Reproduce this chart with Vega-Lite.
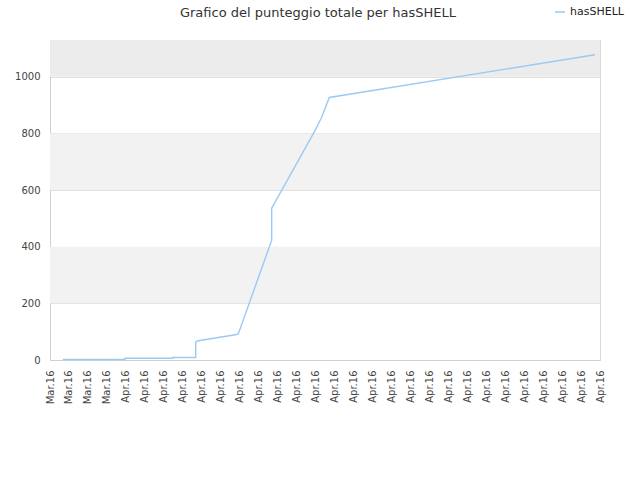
{
  "$schema": "https://vega.github.io/schema/vega-lite/v6.json",
  "width": 550,
  "height": 320,
  "autosize": {"type": "none"},
  "padding": {"left": 50, "top": 40, "right": 40, "bottom": 120},
  "background": "white",
  "title": {
    "text": "Grafico del punteggio totale per hasSHELL",
    "font": "DejaVu Sans",
    "fontSize": 13,
    "fontWeight": "normal",
    "color": "#333333",
    "anchor": "middle",
    "frame": "group",
    "offset": 20,
    "dy": 34,
    "dx": -7
  },
  "config": {
    "font": "DejaVu Sans",
    "view": {"stroke": "#d9d9d9"},
    "axis": {
      "labelFont": "DejaVu Sans",
      "labelFontSize": 10,
      "labelColor": "#444444",
      "ticks": false,
      "tickSize": 0,
      "domainColor": "#d0d0d0",
      "gridColor": "#e0e0e0"
    },
    "axisY": {"labelPadding": 10, "zindex": 1},
    "axisX": {"grid": false, "labelAngle": -90, "labelPadding": 10}
  },
  "datasets": {
    "bands": [
      {"zone": "band", "from": 200, "to": 400},
      {"zone": "band", "from": 600, "to": 800},
      {"zone": "top", "from": 1000, "to": 1130}
    ],
    "score": [
      {"time": "2016-03-28T16:05:00", "score": 2},
      {"time": "2016-03-31T22:54:00", "score": 2},
      {"time": "2016-03-31T22:55:00", "score": 6},
      {"time": "2016-04-03T11:15:00", "score": 6},
      {"time": "2016-04-03T11:16:00", "score": 9},
      {"time": "2016-04-04T16:22:00", "score": 9},
      {"time": "2016-04-04T16:23:00", "score": 64},
      {"time": "2016-04-04T19:40:00", "score": 68},
      {"time": "2016-04-06T20:15:00", "score": 90},
      {"time": "2016-04-06T22:16:00", "score": 92},
      {"time": "2016-04-08T16:32:00", "score": 423},
      {"time": "2016-04-08T16:33:00", "score": 536},
      {"time": "2016-04-10T23:20:00", "score": 810},
      {"time": "2016-04-11T07:49:00", "score": 857},
      {"time": "2016-04-11T17:25:00", "score": 927},
      {"time": "2016-04-25T17:40:00", "score": 1078}
    ]
  },
  "layer": [
    {
      "data": {"name": "bands"},
      "transform": [{"filter": "datum.zone === 'band'"}],
      "mark": {"type": "rect", "color": "#f2f2f2"},
      "encoding": {
        "y": {"field": "from", "type": "quantitative", "title": null, "scale": {"domain": [0, 1130], "nice": false, "zero": true}, "axis": {"values": [0, 200, 400, 600, 800, 1000], "format": "d"}},
        "y2": {"field": "to"}
      }
    },
    {
      "data": {"name": "bands"},
      "transform": [{"filter": "datum.zone === 'top'"}],
      "mark": {"type": "rect", "color": "#ececec"},
      "encoding": {
        "y": {"field": "from", "type": "quantitative", "title": null},
        "y2": {"field": "to"}
      }
    },
    {
      "data": {"name": "score"},
      "mark": {"type": "line", "strokeWidth": 1.4, "interpolate": "linear"},
      "encoding": {
        "x": {
          "field": "time",
          "type": "temporal",
          "title": null,
          "scale": {"domain": [{"year": 2016, "month": 3, "date": 28}, {"year": 2016, "month": 4, "date": 26}]},
          "axis": {
            "format": "%b.%y",
            "values": [
              {"year": 2016, "month": 3, "date": 28}, {"year": 2016, "month": 3, "date": 29},
              {"year": 2016, "month": 3, "date": 30}, {"year": 2016, "month": 3, "date": 31},
              {"year": 2016, "month": 4, "date": 1}, {"year": 2016, "month": 4, "date": 2},
              {"year": 2016, "month": 4, "date": 3}, {"year": 2016, "month": 4, "date": 4},
              {"year": 2016, "month": 4, "date": 5}, {"year": 2016, "month": 4, "date": 6},
              {"year": 2016, "month": 4, "date": 7}, {"year": 2016, "month": 4, "date": 8},
              {"year": 2016, "month": 4, "date": 9}, {"year": 2016, "month": 4, "date": 10},
              {"year": 2016, "month": 4, "date": 11}, {"year": 2016, "month": 4, "date": 12},
              {"year": 2016, "month": 4, "date": 13}, {"year": 2016, "month": 4, "date": 14},
              {"year": 2016, "month": 4, "date": 15}, {"year": 2016, "month": 4, "date": 16},
              {"year": 2016, "month": 4, "date": 17}, {"year": 2016, "month": 4, "date": 18},
              {"year": 2016, "month": 4, "date": 19}, {"year": 2016, "month": 4, "date": 20},
              {"year": 2016, "month": 4, "date": 21}, {"year": 2016, "month": 4, "date": 22},
              {"year": 2016, "month": 4, "date": 23}, {"year": 2016, "month": 4, "date": 24},
              {"year": 2016, "month": 4, "date": 25}, {"year": 2016, "month": 4, "date": 26}
            ]
          }
        },
        "y": {"field": "score", "type": "quantitative", "title": null},
        "color": {
          "datum": "hasSHELL",
          "scale": {"range": ["#9cc9f4"]},
          "legend": {
            "title": null,
            "orient": "none",
            "legendX": 504,
            "legendY": -34,
            "symbolType": "stroke",
            "symbolStrokeWidth": 1.5,
            "symbolSize": 100,
            "labelFont": "DejaVu Sans",
            "labelFontSize": 11,
            "labelColor": "#222222"
          }
        }
      }
    }
  ]
}
